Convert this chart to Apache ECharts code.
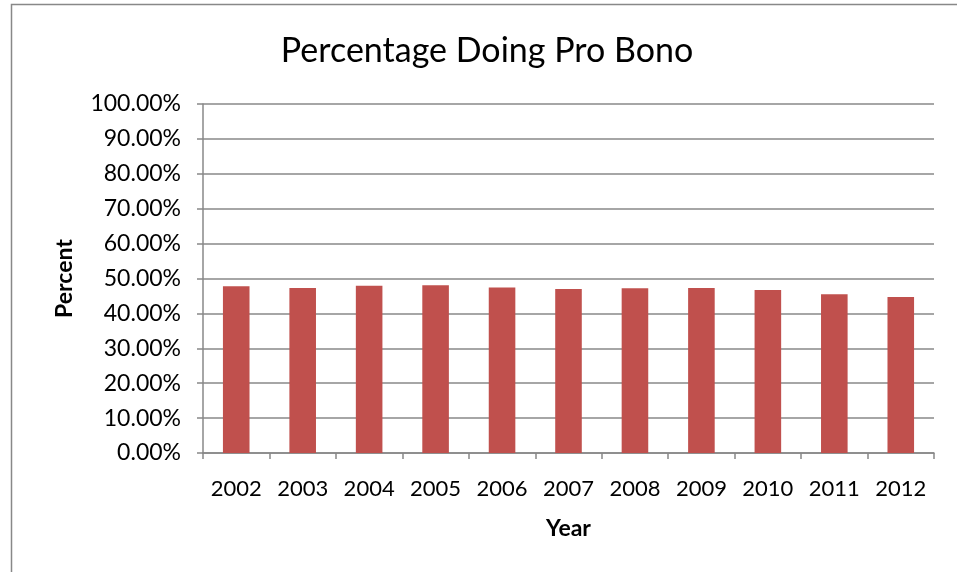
<!DOCTYPE html>
<html><head><meta charset="utf-8">
<script src="https://cdn.jsdelivr.net/npm/echarts@6/dist/echarts.min.js"></script>
<style>html,body{margin:0;padding:0;background:#fff}#c{width:957px;height:572px}</style>
</head><body><div id="c"></div>
<script>
const years = ['2002','2003','2004','2005','2006','2007','2008','2009','2010','2011','2012'];
const percentDoingProBono = [47.8, 47.3, 47.9, 48.1, 47.4, 47.0, 47.2, 47.3, 46.7, 45.5, 44.7];
const chart = echarts.init(document.getElementById('c'));
const font = 'Lato, "Open Sans", sans-serif';
chart.setOption({
  animation: false,
  graphic: [{type:'rect', shape:{x:11.5,y:4.5,width:960,height:580}, style:{fill:'none', stroke:'#888', lineWidth:1.5}}],
  title: {text:'Percentage Doing Pro Bono', left:482, top:29, textAlign:'center',
    textStyle:{fontFamily:font, fontSize:34, fontWeight:'normal', color:'#000'}},
  grid: {left:203, right:23, top:104, bottom:119, containLabel:false},
  xAxis: {type:'category', data:years, name:'Year', nameLocation:'middle', nameGap:64,
    nameTextStyle:{fontFamily:font, fontSize:23, fontWeight:'bold', color:'#000'},
    axisLine:{lineStyle:{color:'#888', width:1.5}},
    axisTick:{show:true, length:6, lineStyle:{color:'#888', width:1.5}},
    axisLabel:{fontFamily:font, fontSize:22, color:'#000', margin:25}},
  yAxis: {type:'value', min:0, max:100, interval:10, name:'Percent', nameLocation:'middle', nameGap:127,
    nameTextStyle:{fontFamily:font, fontSize:23, fontWeight:'bold', color:'#000'},
    axisLine:{show:true, lineStyle:{color:'#888', width:1.5}},
    axisTick:{show:true, length:6, lineStyle:{color:'#888', width:1.5}},
    splitLine:{lineStyle:{color:'#888', width:1.5}},
    axisLabel:{fontFamily:font, fontSize:23, color:'#000', margin:22, formatter: v => v.toFixed(2)+'%'}},
  series: [{type:'bar', data:percentDoingProBono, barWidth:'40%', itemStyle:{color:'#c0504d'}}]
});
</script></body></html>
